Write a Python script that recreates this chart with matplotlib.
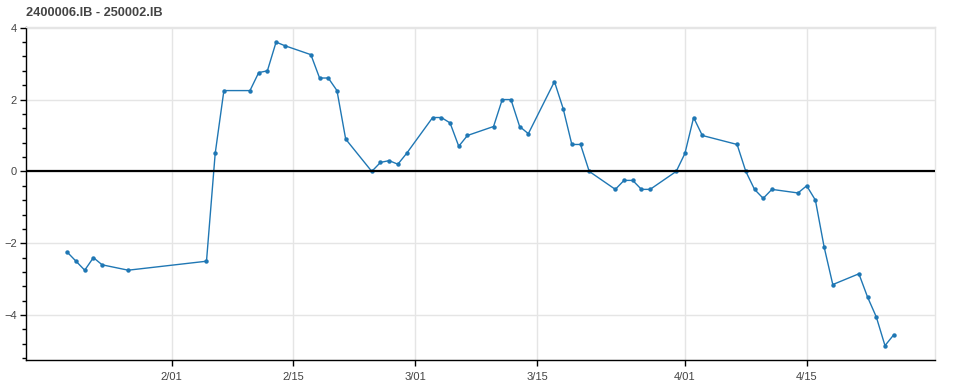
import numpy as np
import matplotlib
matplotlib.use("Agg")
import matplotlib.pyplot as plt
import matplotlib.dates as mdates
from matplotlib.ticker import FixedLocator, MultipleLocator, FuncFormatter

# ── DATA ──────────────────────────────────────────────────────────────────────
TITLE = "2400006.IB - 250002.IB"

dates = [
    "2025-01-20", "2025-01-21", "2025-01-22", "2025-01-23", "2025-01-24",
    "2025-01-27", "2025-02-05", "2025-02-06", "2025-02-07", "2025-02-10",
    "2025-02-11", "2025-02-12", "2025-02-13", "2025-02-14", "2025-02-17",
    "2025-02-18", "2025-02-19", "2025-02-20", "2025-02-21", "2025-02-24",
    "2025-02-25", "2025-02-26", "2025-02-27", "2025-02-28", "2025-03-03",
    "2025-03-04", "2025-03-05", "2025-03-06", "2025-03-07", "2025-03-10",
    "2025-03-11", "2025-03-12", "2025-03-13", "2025-03-14", "2025-03-17",
    "2025-03-18", "2025-03-19", "2025-03-20", "2025-03-21", "2025-03-24",
    "2025-03-25", "2025-03-26", "2025-03-27", "2025-03-28", "2025-03-31",
    "2025-04-01", "2025-04-02", "2025-04-03", "2025-04-07", "2025-04-08",
    "2025-04-09", "2025-04-10", "2025-04-11", "2025-04-14", "2025-04-15",
    "2025-04-16", "2025-04-17", "2025-04-18", "2025-04-21", "2025-04-22",
    "2025-04-23", "2025-04-24", "2025-04-25",
]
spread = [
    -2.25, -2.5, -2.75, -2.4, -2.6,
    -2.75, -2.5, 0.5, 2.25, 2.25,
    2.75, 2.8, 3.6, 3.5, 3.25,
    2.6, 2.6, 2.25, 0.9, 0.0,
    0.25, 0.3, 0.2, 0.5, 1.5,
    1.5, 1.35, 0.7, 1.0, 1.25,
    2.0, 2.0, 1.25, 1.05, 2.5,
    1.75, 0.75, 0.75, 0.0, -0.5,
    -0.25, -0.25, -0.5, -0.5, 0.0,
    0.5, 1.5, 1.0, 0.75, 0.0,
    -0.5, -0.75, -0.5, -0.6, -0.4,
    -0.8, -2.1, -3.15, -2.85, -3.5,
    -4.05, -4.85, -4.55,
]

x_ticks = ["2025-02-01", "2025-02-15", "2025-03-01", "2025-03-15",
           "2025-04-01", "2025-04-15"]

# ── STYLE ─────────────────────────────────────────────────────────────────────
plt.rcParams['font.family'] = ['Liberation Sans', 'DejaVu Sans']
TXT = '#444444'
GRID = '#e5e5e5'
LINE = '#1f77b4'

x = np.array(dates, dtype='datetime64[D]')
y = np.array(spread)

fig = plt.figure(figsize=(9.64, 3.86), dpi=100)
ax = fig.add_axes([26 / 964, 1 - 360 / 386, (935 - 26) / 964, (360 - 27) / 386])

ax.plot(x, y, color=LINE, linewidth=1.0, marker='o', markersize=3.2,
        markeredgewidth=0, zorder=3)
ax.axhline(0, color='black', linewidth=1.6, zorder=4)

# range padding like the original (5% each side)
span = (x[-1] - x[0]).astype(float)
ax.set_xlim(mdates.date2num(x[0]) - span * 0.05, mdates.date2num(x[-1]) + span * 0.05)
ax.set_ylim(-5.25, 4.02)

ax.xaxis.set_major_locator(FixedLocator(mdates.date2num(np.array(x_ticks, dtype='datetime64[D]'))))
ax.xaxis.set_major_formatter(FuncFormatter(
    lambda v, _: f"{mdates.num2date(v).month}/{mdates.num2date(v).day:02d}"))
ax.yaxis.set_major_locator(MultipleLocator(2))
ax.yaxis.set_minor_locator(MultipleLocator(0.4))
ax.yaxis.set_major_formatter(FuncFormatter(lambda v, _: f"{v:g}".replace('-', '\u2212')))

ax.grid(True, which='major', color=GRID, linewidth=1.0, zorder=0)
ax.set_axisbelow(True)

for side in ('top', 'right'):
    ax.spines[side].set_color(GRID)
    ax.spines[side].set_linewidth(1.0)
for side in ('left', 'bottom'):
    ax.spines[side].set_color('black')
    ax.spines[side].set_linewidth(1.0)

ax.tick_params(axis='x', which='major', direction='out', length=4.5,
               width=1, color='black', labelsize=8, labelcolor=TXT, pad=4)
ax.tick_params(axis='y', which='major', direction='out', length=4.5,
               width=1, color='black', labelsize=8, labelcolor=TXT, pad=2)
ax.tick_params(axis='y', which='minor', direction='out', length=3, width=1,
               color='black')

fig.text(26 / 964, 1 - 13 / 386, TITLE, fontsize=9.2, fontweight='bold',
         color=TXT, ha='left', va='center')

fig.savefig('out.png', dpi=100, facecolor='white')
